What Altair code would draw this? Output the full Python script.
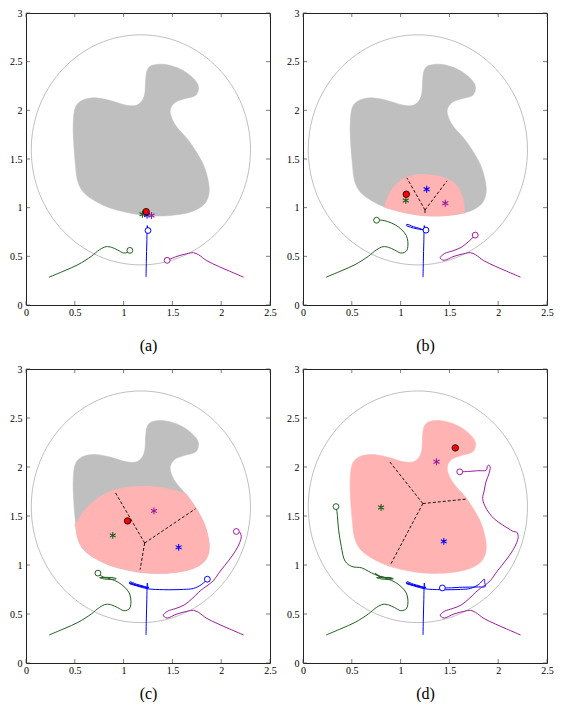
import altair as alt
import pandas as pd

# ---------------- data ----------------
X_TICKS = [0, 0.5, 1, 1.5, 2, 2.5]
Y_TICKS = [0, 0.5, 1, 1.5, 2, 2.5, 3]
SERIES = ["green", "blue", "purple"]
COLORS = ["#1f5f1f", "#0000ff", "#9c1c9c"]
LABELS = ["(a)", "(b)", "(c)", "(d)"]

# large grey circle (centre)
CIRCLE_CENTER = [(1.177, 1.594)]

# grey obstacle-free region outline
BLOB = [(0.483, 1.844), (0.500, 2.013), (0.551, 2.088), (0.635, 2.122), (0.737, 2.126),
        (0.871, 2.099), (1.007, 2.058), (1.108, 2.048), (1.175, 2.082), (1.216, 2.167),
        (1.226, 2.320), (1.243, 2.415), (1.294, 2.463), (1.412, 2.473), (1.547, 2.439),
        (1.666, 2.371), (1.750, 2.286), (1.767, 2.218), (1.733, 2.150), (1.615, 2.116),
        (1.530, 2.082), (1.480, 2.014), (1.490, 1.929), (1.547, 1.827), (1.666, 1.691),
        (1.767, 1.537), (1.834, 1.401), (1.875, 1.231), (1.868, 1.112), (1.818, 1.027),
        (1.716, 0.966), (1.581, 0.932), (1.412, 0.915), (1.243, 0.918), (1.074, 0.942),
        (0.871, 0.993), (0.703, 1.071), (0.585, 1.163), (0.527, 1.282), (0.507, 1.435),
        (0.490, 1.640)]

# explored (pink) regions, corners repeated
PINK_B = [(0.838, 1.010), (0.878, 1.129), (0.963, 1.248), (1.098, 1.327), (1.267, 1.340),
          (1.453, 1.306), (1.571, 1.231), (1.638, 1.095), (1.655, 0.950), (1.655, 0.950),
          (1.581, 0.932), (1.412, 0.915), (1.243, 0.918), (1.074, 0.942), (0.871, 0.993),
          (0.838, 1.010)]
PINK_C = [(0.507, 1.410), (0.602, 1.562), (0.737, 1.681), (0.905, 1.765), (1.108, 1.799),
          (1.311, 1.799), (1.513, 1.765), (1.630, 1.725), (1.630, 1.725), (1.666, 1.691),
          (1.767, 1.537), (1.834, 1.401), (1.875, 1.231), (1.868, 1.112), (1.818, 1.027),
          (1.716, 0.966), (1.581, 0.932), (1.412, 0.915), (1.243, 0.918), (1.074, 0.942),
          (0.871, 0.993), (0.703, 1.071), (0.585, 1.163), (0.527, 1.282), (0.507, 1.410)]

# dashed partition segments (junction -> end)
DASH_B = [[(1.250, 0.976), (1.064, 1.306)], [(1.250, 0.976), (1.476, 1.276)],
          [(1.250, 0.976), (1.250, 0.925)]]
DASH_C = [[(1.216, 1.224), (0.912, 1.745)], [(1.216, 1.224), (1.737, 1.574)],
          [(1.216, 1.224), (1.169, 0.953)]]
DASH_D = [[(1.228, 1.627), (0.878, 2.066)], [(1.228, 1.627), (1.669, 1.672)],
          [(1.228, 1.627), (0.897, 1.004)]]

# trajectories
GREEN_A = [(0.237, 0.286), (0.399, 0.354), (0.534, 0.415), (0.669, 0.500), (0.754, 0.568),
           (0.821, 0.599), (0.878, 0.592), (0.939, 0.565), (1.000, 0.534), (1.041, 0.541),
           (1.064, 0.561)]
GREEN_B = [(1.074, 0.600), (1.074, 0.653), (1.058, 0.714), (1.013, 0.772), (0.946, 0.823),
           (0.868, 0.857), (0.811, 0.871), (0.754, 0.871)]
GREEN_C = [(0.800, 0.858), (0.870, 0.853), (0.925, 0.860), (0.880, 0.873), (0.800, 0.875),
           (0.760, 0.895), (0.737, 0.917)]
GREEN_D = [(0.800, 0.880), (0.880, 0.868), (0.915, 0.862), (0.840, 0.872), (0.736, 0.903),
           (0.669, 0.937), (0.601, 0.971), (0.500, 0.985), (0.432, 1.038), (0.392, 1.190),
           (0.365, 1.359), (0.348, 1.545), (0.338, 1.596)]

BLUE_A = [(1.230, 0.286), (1.233, 0.450), (1.238, 0.650), (1.243, 0.816), (1.247, 0.790),
          (1.250, 0.765)]
BLUE_B = [(1.200, 0.785), (1.130, 0.805), (1.065, 0.828), (1.058, 0.818), (1.100, 0.800),
          (1.170, 0.782), (1.260, 0.769)]
BLUE_C = [(1.150, 0.790), (1.070, 0.815), (1.058, 0.812), (1.142, 0.785), (1.243, 0.758),
          (1.412, 0.748), (1.614, 0.751), (1.716, 0.761), (1.800, 0.802), (1.858, 0.855)]
BLUE_D = [(1.862, 0.820), (1.868, 0.781), (1.800, 0.776), (1.740, 0.775), (1.600, 0.772),
          (1.537, 0.768), (1.428, 0.766)]

PURPLE_A = [(2.229, 0.286), (2.087, 0.347), (1.970, 0.398), (1.851, 0.456), (1.767, 0.517),
            (1.716, 0.537), (1.648, 0.527), (1.547, 0.500), (1.446, 0.459)]
PURPLE_B = [(1.418, 0.470), (1.405, 0.490), (1.420, 0.505), (1.452, 0.530), (1.536, 0.557),
            (1.621, 0.592), (1.700, 0.655), (1.765, 0.718)]
PURPLE_C = [(1.815, 0.760), (1.865, 0.795), (1.919, 0.840), (1.990, 0.937), (2.080, 1.050),
            (2.150, 1.150), (2.190, 1.230), (2.205, 1.290), (2.190, 1.335), (2.155, 1.342)]
PURPLE_D = [(2.100, 1.375), (2.043, 1.410), (1.960, 1.470), (1.908, 1.529), (1.860, 1.610),
            (1.841, 1.680), (1.858, 1.765), (1.875, 1.850), (1.905, 1.930), (1.918, 2.000),
            (1.905, 2.020), (1.890, 2.010), (1.878, 1.968), (1.790, 1.962), (1.700, 1.955),
            (1.606, 1.951)]

# estimated positions (stars: green, blue, purple) and target (red dot)
STARS_A = [(1.193, 0.933), (1.240, 0.925), (1.286, 0.920)]
STARS_B = [(1.053, 1.073), (1.267, 1.189), (1.458, 1.046)]
STARS_C = [(0.889, 1.302), (1.564, 1.180), (1.311, 1.552)]
STARS_D = [(0.800, 1.586), (1.443, 1.241), (1.368, 2.053)]
RED = [(1.231, 0.959), (1.058, 1.138), (1.041, 1.450), (1.560, 2.195)]

# ---------------- styling ----------------
W = 244
HEIGHTS = [292, 292, 294, 294]
FONT = "Liberation Serif, serif"
RX_UNITS, RY_UNITS = 1.123, 1.182          # drawn size of the grey circle, in axis units
ASTERISK = "M0,-1L0,1M-0.866,-0.5L0.866,0.5M-0.866,0.5L0.866,-0.5"

xs = alt.Scale(domain=[0, 2.5], nice=False, zero=False)
ys = alt.Scale(domain=[0, 3], nice=False, zero=False)
cs = alt.Scale(domain=SERIES, range=COLORS)


def ellipse_style(h):
    ry_px = RY_UNITS * h / 3.0
    r = RX_UNITS * W / 2.5 / ry_px
    k = 0.5523
    path = (f"M{r:.4f},0 C{r:.4f},{k} {r*k:.4f},1 0,1 C{-r*k:.4f},1 {-r:.4f},{k} {-r:.4f},0 "
            f"C{-r:.4f},{-k} {-r*k:.4f},-1 0,-1 C{r*k:.4f},-1 {r:.4f},{-k} {r:.4f},0 Z")
    return path, (2 * ry_px) ** 2


def pts(points, **extra):
    d = pd.DataFrame({"x": [p[0] for p in points], "y": [p[1] for p in points]})
    d["i"] = range(len(d))
    for k, v in extra.items():
        d[k] = v
    return d


def enc(label, title_pad):
    xa = alt.Axis(values=X_TICKS, format="~g", title=label, titlePadding=title_pad)
    ya = alt.Axis(values=Y_TICKS, format="~g", title=None)
    return alt.X("x:Q", scale=xs, axis=xa), alt.Y("y:Q", scale=ys, axis=ya)


def panel(k, pink, dashes, paths, stars, red):
    H = HEIGHTS[k]
    X, Y = enc(LABELS[k], 20 if k < 2 else 10)
    epath, esize = ellipse_style(H)
    layers = []
    layers.append(alt.Chart(pts(CIRCLE_CENTER)).mark_point(
        shape=epath, filled=False, size=esize, stroke="#b8b8b8",
        strokeWidth=0.9, opacity=1).encode(x=X, y=Y))
    if k < 3:
        layers.append(alt.Chart(pts(BLOB)).mark_line(
            interpolate="cardinal-closed", color="#bfbfbf", fill="#bfbfbf",
            strokeWidth=0.5).encode(x=X, y=Y, order="i:Q"))
    if pink is not None:
        layers.append(alt.Chart(pts(pink)).mark_line(
            interpolate="cardinal-closed", color="#ffb3b3", fill="#ffb3b3",
            strokeWidth=0.6).encode(x=X, y=Y, order="i:Q"))
    if dashes is not None:
        dd = pd.concat([pts(s, seg=j) for j, s in enumerate(dashes)])
        layers.append(alt.Chart(dd).mark_line(
            color="black", strokeDash=[3, 2], strokeWidth=0.9).encode(
            x=X, y=Y, detail="seg:N", order="i:Q"))
    td = pd.concat([pts(p, s=SERIES[j]) for j, p in enumerate(paths)])
    layers.append(alt.Chart(td).mark_line(
        interpolate="catmull-rom", strokeWidth=1).encode(
        x=X, y=Y, order="i:Q", color=alt.Color("s:N", scale=cs, legend=None)))
    ed = pd.concat([pts([p[-1]], s=SERIES[j]) for j, p in enumerate(paths)])
    layers.append(alt.Chart(ed).mark_point(
        shape="circle", filled=True, fill="white", size=34, strokeWidth=1,
        opacity=1).encode(x=X, y=Y, stroke=alt.Stroke("s:N", scale=cs, legend=None)))
    sd = pd.DataFrame({"x": [p[0] for p in stars], "y": [p[1] for p in stars], "s": SERIES})
    layers.append(alt.Chart(sd).mark_point(
        shape=ASTERISK, filled=False, size=48, strokeWidth=1.1, opacity=1).encode(
        x=X, y=Y, color=alt.Color("s:N", scale=cs, legend=None)))
    layers.append(alt.Chart(pts([red])).mark_point(
        shape="circle", filled=True, fill="#ff0000", stroke="black", strokeWidth=0.8,
        size=42, opacity=1).encode(x=X, y=Y))
    # inward ticks on all four sides
    xt = pd.DataFrame({"x": X_TICKS})
    yt = pd.DataFrame({"y": Y_TICKS})
    tk = dict(color="#444", strokeWidth=0.7)
    layers.append(alt.Chart(xt).mark_rule(**tk).encode(x=X, y=alt.value(H), y2=alt.value(H - 4)))
    layers.append(alt.Chart(xt).mark_rule(**tk).encode(x=X, y=alt.value(0), y2=alt.value(4)))
    layers.append(alt.Chart(yt).mark_rule(**tk).encode(y=Y, x=alt.value(0), x2=alt.value(4)))
    layers.append(alt.Chart(yt).mark_rule(**tk).encode(y=Y, x=alt.value(W), x2=alt.value(W - 4)))
    return alt.layer(*layers).properties(width=W, height=H)


pa = panel(0, None, None, [GREEN_A, BLUE_A, PURPLE_A], STARS_A, RED[0])
pb = panel(1, PINK_B, DASH_B, [GREEN_A + GREEN_B, BLUE_A + BLUE_B, PURPLE_A + PURPLE_B],
           STARS_B, RED[1])
pc = panel(2, PINK_C, DASH_C,
           [GREEN_A + GREEN_B + GREEN_C, BLUE_A + BLUE_B + BLUE_C, PURPLE_A + PURPLE_B + PURPLE_C],
           STARS_C, RED[2])
pd_ = panel(3, BLOB, DASH_D,
            [GREEN_A + GREEN_B + GREEN_C + GREEN_D, BLUE_A + BLUE_B + BLUE_C + BLUE_D,
             PURPLE_A + PURPLE_B + PURPLE_C + PURPLE_D],
            STARS_D, RED[3])

chart = alt.concat(
    pa, pb, pc, pd_, columns=2, spacing={"row": 64, "column": 33}, bounds="flush"
).properties(
    autosize=alt.AutoSizeParams(type="none"),
    padding={"left": 18, "top": 5, "right": 528, "bottom": 689},
).configure_axis(
    domain=False, ticks=False, tickSize=0, grid=False, labelFlush=False, labelOverlap=False,
    labelFont=FONT, labelFontSize=10, labelColor="black",
    titleFont=FONT, titleFontSize=16, titleFontWeight="normal", titleColor="black",
).configure_axisX(labelPadding=2).configure_axisY(labelPadding=4).configure_view(
    stroke="#222", strokeWidth=1
)

chart.save("out.html", embed_options={"renderer": "svg", "actions": False})
